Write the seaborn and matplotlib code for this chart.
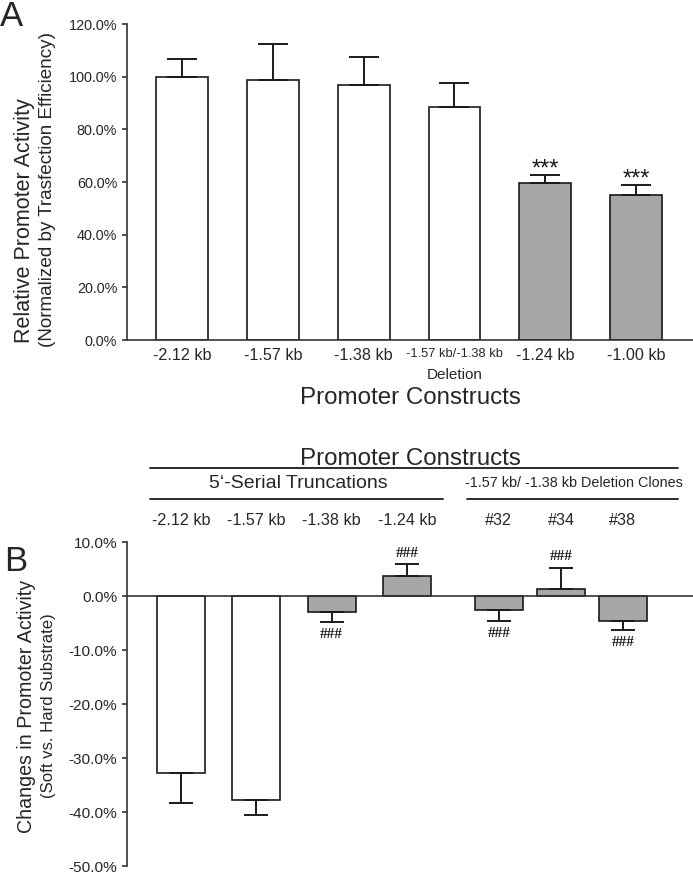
import numpy as np
import pandas as pd
import matplotlib
matplotlib.use('Agg')
import matplotlib.pyplot as plt
import seaborn as sns
from matplotlib.lines import Line2D
from matplotlib.transforms import blended_transform_factory

# Panel A: relative promoter activity of the constructs
a_labels = ['-2.12 kb', '-1.57 kb', '-1.38 kb', '-1.57 kb/-1.38 kb', '-1.24 kb', '-1.00 kb']
a_mean = [99.7, 98.7, 96.8, 88.5, 59.6, 55.1]
a_err = [7.0, 13.7, 10.7, 9.1, 3.1, 3.8]
a_group = ['ns', 'ns', 'ns', 'ns', 'sig', 'sig']
a_marks = ['', '', '', '', '***', '***']

# Panel B: change soft vs hard substrate
b_labels = ['-2.12 kb', '-1.57 kb', '-1.38 kb', '-1.24 kb', '#32', '#34', '#38']
b_mean = [-32.8, -37.8, -3.0, 3.7, -2.5, 1.3, -4.6]
b_err = [5.5, 2.8, 1.8, 2.2, 2.1, 3.9, 1.7]
b_group = ['ns', 'ns', 'sig', 'sig', 'sig', 'sig', 'sig']
b_marks = ['', '', '###', '###', '###', '###', '###']

# layout (bar slots on panel B: two groups with different spacing)
b_pos = [0, 1, 2, 3, 4.22, 5.05, 5.87]

sns.set_theme(style='ticks')
plain = ['Liberation Sans', 'DejaVu Sans']
serif = ['Liberation Serif', 'DejaVu Serif']
plt.rcParams['font.family'] = plain

dark = '#1a1a1a'
axis_col = '#333333'
pal = {'ns': 'white', 'sig': '#a6a6a6'}

W, H = 693, 874
fig = plt.figure(figsize=(W / 100, H / 100), dpi=100)
fx = lambda px: px / W
fy = lambda py: 1 - py / H

axA = fig.add_axes([fx(127), fy(340), fx(693 - 127), (340 - 24) / H])
axB = fig.add_axes([fx(127), fy(866), fx(693 - 127), (866 - 542) / H])

# ---------------- panel A ----------------
df_a = pd.DataFrame({'construct': a_labels, 'activity': a_mean, 'group': a_group})
sns.barplot(data=df_a, x='construct', y='activity', hue='group', palette=pal,
            legend=False, dodge=False, width=0.57, errorbar=None,
            edgecolor=dark, linewidth=1.2, ax=axA)
xa = np.arange(len(a_labels))
axA.errorbar(xa, a_mean, yerr=[np.zeros(len(a_err)), a_err], fmt='none',
             ecolor=dark, elinewidth=1.4, capsize=10.5, capthick=1.4, zorder=1)
for x, m, e, s in zip(xa, a_mean, a_err, a_marks):
    if s:
        axA.annotate(s, (x, m + e), xytext=(0, 4), textcoords='offset points',
                     ha='center', va='center', fontsize=17, color=dark)

axA.set_xlim(-0.606, len(a_labels) - 1 + 0.627)
axA.set_ylim(0, 120)
ya = np.arange(0, 121, 20)
axA.set_yticks(ya)
axA.set_yticklabels([f'{v:.1f}%' for v in ya])
axA.set_xticks(xa)
axA.set_xticklabels(a_labels)
axA.tick_params(axis='x', length=0, pad=5.6, labelsize=11.6)
axA.tick_params(axis='y', length=3.6, width=1.2, color=axis_col, pad=3.5,
                labelsize=10.4)
axA.set_xlabel('')
axA.set_ylabel('')
sns.despine(ax=axA)
for sp in ['left', 'bottom']:
    axA.spines[sp].set_color(axis_col)
    axA.spines[sp].set_linewidth(1.2)
axA.get_xticklabels()[3].set_fontsize(9.3)
tA = blended_transform_factory(axA.transData, axA.transAxes)
axA.text(3, -0.111, 'Deletion', transform=tA, ha='center', va='center', fontsize=11)

fig.text(fx(410), fy(398), 'Promoter Constructs', ha='center', va='center',
         fontsize=17.4)
fig.text(fx(25), fy(343), 'Relative Promoter Activity', rotation=90,
         ha='center', va='bottom', fontsize=15.5)
fig.text(fx(48), fy(347), '(Normalized by Trasfection Efficiency)', rotation=90,
         ha='center', va='bottom', fontsize=13.6)
fig.text(fx(0), fy(26), 'A', ha='left', va='baseline', fontsize=25)

# ---------------- panel B ----------------
df_b = pd.DataFrame({'pos': b_pos, 'change': b_mean, 'group': b_group})
sns.barplot(data=df_b, x='pos', y='change', hue='group', palette=pal,
            legend=False, dodge=False, native_scale=True, width=0.777,
            errorbar=None, edgecolor=dark, linewidth=1.2, ax=axB)
lo = [e if m < 0 else 0 for m, e in zip(b_mean, b_err)]
hi = [e if m >= 0 else 0 for m, e in zip(b_mean, b_err)]
axB.errorbar(b_pos, b_mean, yerr=[lo, hi], fmt='none', ecolor=dark,
             elinewidth=1.4, capsize=8.6, capthick=1.4, zorder=1)
for x, m, e, s in zip(b_pos, b_mean, b_err, b_marks):
    if not s:
        continue
    if m >= 0:
        axB.annotate(s, (x, m + e), xytext=(0, 8), textcoords='offset points',
                     ha='center', va='center', fontsize=11, weight='bold',
                     family=serif, color=dark)
    else:
        axB.annotate(s, (x, m - e), xytext=(0, -9), textcoords='offset points',
                     ha='center', va='center', fontsize=11, weight='bold',
                     family=serif, color=dark)

axB.set_xlim(-0.717, 6.80)
axB.set_ylim(-50, 10)
yb = np.arange(-50, 11, 10)
axB.set_yticks(yb)
axB.set_yticklabels([f'{v:.1f}%' for v in yb])
axB.xaxis.tick_top()
axB.set_xticks(b_pos)
axB.set_xticklabels(b_labels)
axB.tick_params(axis='x', length=0, pad=10, labelsize=11.6)
axB.tick_params(axis='y', length=3.6, width=1.2, color=axis_col, pad=3.5,
                labelsize=11.1)
axB.set_xlabel('')
axB.set_ylabel('')
for sp in ['top', 'right']:
    axB.spines[sp].set_visible(False)
axB.spines['bottom'].set_position(('data', 0))
for sp in ['left', 'bottom']:
    axB.spines[sp].set_color(axis_col)
    axB.spines[sp].set_linewidth(1.2)

# header of panel B
fig.text(fx(410), fy(459), 'Promoter Constructs', ha='center', va='center',
         fontsize=17.4)
fig.add_artist(Line2D([fx(150), fx(678)], [fy(468)] * 2, color=dark, lw=1.3))
fig.text(fx(298), fy(483), '5\u2018-Serial Truncations', ha='center', va='center',
         fontsize=14)
fig.text(fx(574), fy(483), '-1.57 kb/ -1.38 kb Deletion Clones', ha='center',
         va='center', fontsize=10.4)
fig.add_artist(Line2D([fx(150), fx(443)], [fy(499)] * 2, color=dark, lw=1.3))
fig.add_artist(Line2D([fx(467), fx(678)], [fy(499)] * 2, color=dark, lw=1.3))

fig.text(fx(27), fy(706), 'Changes in Promoter Activity', rotation=90,
         ha='center', va='center', fontsize=14.1)
fig.text(fx(49), fy(706), '(Soft vs. Hard Substrate)', rotation=90,
         ha='center', va='center', fontsize=12.1)
fig.text(fx(4), fy(571), 'B', ha='left', va='baseline', fontsize=25)

fig.savefig('out.png', dpi=100)
